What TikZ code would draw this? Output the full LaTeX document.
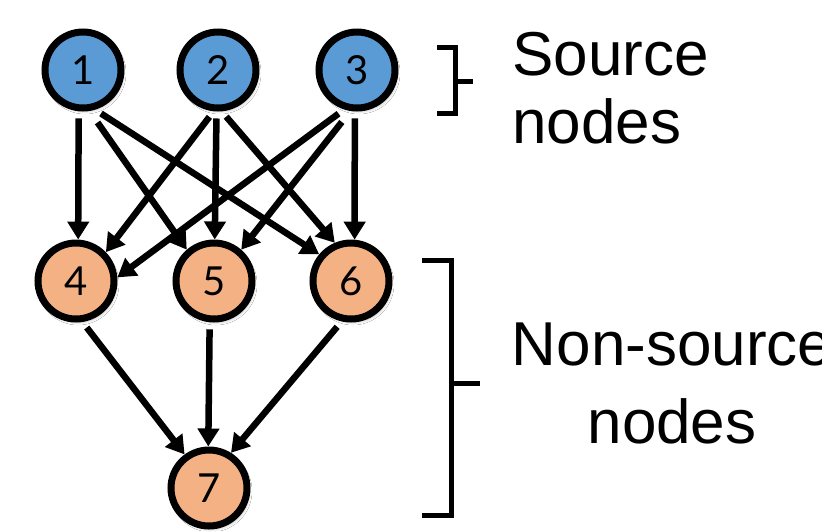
\documentclass[tikz,border=0pt]{standalone}
\usepackage{fontspec}
\setmainfont{Liberation Sans}
\newfontfamily\digitfont{Lato}
\usetikzlibrary{arrows.meta,shadows.blur}
\definecolor{srcblue}{HTML}{5B9BD5}
\definecolor{nonorange}{HTML}{F4B183}
\begin{document}
\begin{tikzpicture}[x=1pt,y=-1pt,
  vtx/.style={circle, draw=black, line width=7pt, minimum size=76pt, inner sep=0pt,
    font=\digitfont\fontsize{40}{40}\selectfont,
    blur shadow={shadow xshift=2pt, shadow yshift=-3pt, shadow blur radius=3pt, shadow opacity=30}},
  src/.style={vtx, fill=srcblue},
  non/.style={vtx, fill=nonorange},
  edge/.style={line width=6.5pt, -{Triangle[length=18pt,width=21pt]}, shorten <=7pt},
  brk/.style={line width=5pt, line join=miter},
  lbl/.style={inner sep=0pt, font=\fontsize{62}{70}\selectfont}]
\path[use as bounding box, clip] (0,0) rectangle (822,531);
\fill[white] (0,0) rectangle (822,531);

\node[src] (n1) at (83,70) {1};
\node[src] (n2) at (218,70) {2};
\node[src] (n3) at (357,70) {3};
\node[non] (n4) at (76,281) {4};
\node[non] (n5) at (214,281) {5};
\node[non] (n6) at (351,281) {6};
\node[non] (n7) at (209,488) {7};

\draw[edge] (n1.-96) -- (n4.87);
\draw[edge, shorten <=14pt] (n1.-81) -- (n5.131);
\draw[edge] (n1.-73) -- (n6.140);
\draw[edge] (n2.-96) -- (n4.44);
\draw[edge] (n2.-92) -- (n5.89);
\draw[edge] (n2.-85) -- (n6.113);
\draw[edge] (n3.-108) -- (n4.5);
\draw[edge, shorten <=14pt] (n3.-99) -- (n5.49);
\draw[edge] (n3.-93) -- (n6.85);
\draw[edge] (n4.-81) -- (n7.126);
\draw[edge] (n5.-96) -- (n7.91);
\draw[edge] (n6.-103) -- (n7.58);

\draw[brk] (437,47) -- (455,47) -- (455,113) -- (437,113);
\draw[brk] (455,81) -- (473,81);
\draw[brk] (422,260) -- (451,260) -- (451,515) -- (422,515);
\draw[brk] (451,383) -- (480,383);

\node[lbl, anchor=base west] (s1) at (512,75) {Source};
\node[lbl, anchor=base west] (s2) at (512,143) {nodes};
\node[lbl, anchor=base] (t1) at (672,365) {Non-source};
\node[lbl, anchor=base] (t2) at (672,443) {nodes};
\end{tikzpicture}
\end{document}
